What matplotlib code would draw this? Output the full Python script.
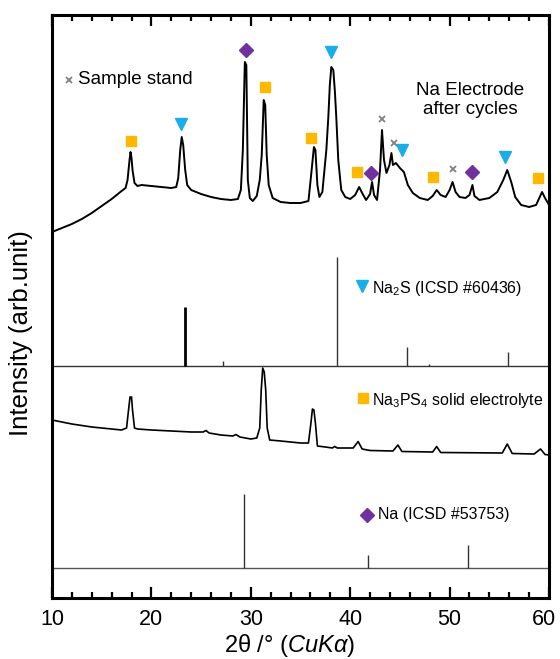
import numpy as np
import matplotlib
matplotlib.use('Agg')
import matplotlib.pyplot as plt
from matplotlib.ticker import MultipleLocator
from matplotlib.transforms import ScaledTranslation

plt.rcParams.update({
    'font.family': ['Liberation Sans', 'DejaVu Sans'],
    'mathtext.fontset': 'custom',
    'mathtext.rm': 'Liberation Sans',
    'mathtext.it': 'Liberation Sans:italic',
})

# Na electrode after cycles (2theta, intensity)
elec_x = [10.0, 11.0, 12.0, 13.0, 14.0, 15.0, 16.0, 17.0, 17.4, 17.6, 17.8, 17.9, 18.0, 18.1,
          18.3, 18.6, 19.0, 20.0, 21.0, 22.0, 22.5, 22.7, 22.9, 23.05, 23.2, 23.4, 23.6, 24.0,
          25.0, 26.0, 27.0, 28.0, 28.7, 29.0, 29.2, 29.4, 29.55, 29.7, 29.9, 30.2, 30.6, 30.9,
          31.1, 31.3, 31.45, 31.6, 31.8, 32.2, 33.0, 34.0, 35.0, 35.8, 36.1, 36.35, 36.5, 36.7,
          36.9, 37.2, 37.6, 37.8, 37.95, 38.1, 38.3, 38.45, 38.6, 38.8, 39.1, 39.5, 40.0, 40.5,
          40.9, 41.2, 41.6, 42.0, 42.2, 42.4, 42.7, 43.0, 43.2, 43.4, 43.65, 43.95, 44.15, 44.3,
          44.6, 45.0, 45.4, 45.8, 46.3, 47.0, 47.8, 48.3, 48.7, 49.1, 49.6, 50.0, 50.3, 50.6,
          51.0, 51.6, 52.0, 52.3, 52.5, 53.0, 54.0, 54.8, 55.4, 55.8, 56.2, 56.6, 57.2, 58.0,
          58.7, 59.3, 59.6, 60.0]
elec_y = [366, 370, 374, 379, 385, 392, 399, 407, 410, 418, 438, 446, 440, 428,
          415, 412, 413, 412, 411, 410, 411, 420, 448, 461, 453, 428, 413, 408,
          404, 401, 399, 398, 399, 408, 448, 536, 533, 418, 400, 397, 402, 418,
          443, 498, 493, 443, 413, 400, 396, 395, 395, 397, 426, 451, 448, 413,
          401, 406, 448, 481, 513, 531, 528, 508, 481, 438, 408, 401, 399, 403,
          411, 405, 398, 404, 416, 403, 398, 428, 468, 438, 425, 433, 445, 433,
          435, 430, 426, 413, 405, 400, 398, 402, 408, 403, 401, 408, 416, 406,
          401, 400, 403, 413, 402, 398, 400, 406, 418, 428, 416, 401, 393, 391,
          393, 406, 400, 393]

# Na3PS4 solid electrolyte
se_x = [10.0, 11.0, 12.0, 13.0, 14.0, 15.0, 16.0, 17.0, 17.5, 17.7, 17.85, 18.0, 18.1, 18.3,
        18.6, 20.0, 22.0, 24.0, 25.2, 25.5, 25.8, 27.0, 28.2, 28.5, 28.9, 30.0, 30.6, 30.9,
        31.05, 31.2, 31.35, 31.5, 31.65, 31.9, 33.0, 34.0, 35.0, 35.8, 36.05, 36.2, 36.35,
        36.5, 36.7, 37.5, 38.2, 38.45, 38.7, 40.3, 40.8, 41.2, 42.0, 44.3, 44.8, 45.2, 48.3,
        48.7, 49.1, 55.3, 55.8, 56.3, 58.5, 59.15, 59.6, 60.0]
se_y = [178, 176, 174, 172.5, 171, 170, 169, 168, 170, 188, 201, 201, 188, 170,
        169, 168, 167, 166, 166, 167.5, 165, 163, 162, 163.5, 161, 159, 160, 170,
        208, 230, 226, 208, 170, 158, 157, 156, 155, 155, 175, 189, 188,
        175, 152, 151, 150, 151.5, 150, 150, 156.5, 149, 147.5, 147, 153, 146.5, 146,
        151.5, 145.5, 145, 154, 144.5, 144, 149, 143.5, 143]

# reference patterns
na2s_pos = [23.4, 27.2, 38.7, 45.7, 47.9, 55.9]
na2s_top = [291, 237, 341, 251.5, 234, 246]
na2s_base = 232
na_pos = [29.3, 41.8, 51.9]
na_top = [104.5, 43, 52.6]
na_base = 30.3

# phase markers on the electrode pattern
sq_x = [17.9, 31.4, 36.1, 40.7, 48.35, 58.9]
sq_y = [457, 511, 460, 426, 421, 420]
tri_x = [23.0, 38.1, 45.2, 55.6]
tri_y = [474, 546, 448, 441]
dia_x = [29.5, 42.1, 52.3]
dia_y = [548, 425, 426]
cross_x = [43.2, 44.4, 50.3]
cross_y = [479, 455, 429]

c_sq = '#FFB800'
c_tri = '#1AAEE8'
c_dia = '#7030A0'
c_x = '#808080'

fig = plt.figure(figsize=(5.6, 6.59), dpi=100)
ax = fig.add_axes([52 / 560, 61 / 659, 497 / 560, 583 / 659])

ax.plot(elec_x, elec_y, color='black', lw=1.4)
ax.plot(se_x, se_y, color='black', lw=1.2)

ax.axhline(na2s_base, color='#333333', lw=1.0)
ax.vlines(na2s_pos[0], na2s_base, na2s_top[0], color='black', lw=2.0)
ax.vlines(na2s_pos[1:], na2s_base, na2s_top[1:], color='#333333', lw=1.0)
ax.axhline(na_base, color='#555555', lw=1.0)
ax.vlines(na_pos, na_base, na_top, color='#333333', lw=1.0)

ax.plot(sq_x, sq_y, 's', color=c_sq, ms=7)
ax.plot(tri_x, tri_y, 'v', color=c_tri, ms=8)
ax.plot(dia_x, dia_y, 'D', color=c_dia, ms=7.5)
ax.plot(cross_x, cross_y, 'x', color=c_x, ms=4.5, mew=1.3)

# labels
ax.plot([11.7], [518], 'x', color=c_x, ms=4.5, mew=1.3)
ax.text(12.6, 518, 'Sample stand', fontsize=13.5, va='center')
ax.text(52.1, 498, 'Na Electrode\nafter cycles', fontsize=13.5, ha='center', va='center',
        linespacing=1.2)
ax.plot([41.2], [312], 'v', color=c_tri, ms=8)
ax.text(42.2, 310, r'Na$\mathregular{_2}$S (ICSD #60436)', fontsize=11.5, va='center')
ax.plot([41.3], [200], 's', color=c_sq, ms=7)
ax.text(42.2, 198, r'Na$\mathregular{_3}$PS$\mathregular{_4}$ solid electrolyte', fontsize=11.5,
        va='center')
ax.plot([41.7], [83], 'D', color=c_dia, ms=7.5)
ax.text(42.8, 83, 'Na (ICSD #53753)', fontsize=11.5, va='center')

ax.set_xlim(10, 60)
ax.set_ylim(0, 583)
ax.set_xticks([10, 20, 30, 40, 50, 60])
ax.xaxis.set_minor_locator(MultipleLocator(2))
ax.tick_params(axis='x', which='both', direction='in', top=True, width=1.6, labelsize=15.5, pad=8)
ax.tick_params(axis='x', which='major', length=8)
ax.tick_params(axis='x', which='minor', length=4.5)
ax.set_yticks([])
for s in ax.spines.values():
    s.set_linewidth(2.2)

ax.set_xlabel(r'2θ /° ($\mathit{CuKα}$)', fontsize=17)
ax.xaxis.set_label_coords(0.478, -0.058)
ax.set_ylabel('Intensity (arb.unit)', fontsize=18.5)
ax.yaxis.set_label_coords(-0.038, 0.455)

# last tick label sits a little left of the axis edge, as in the original
fig.canvas.draw()
last = ax.get_xticklabels()[-1]
last.set_transform(last.get_transform() + ScaledTranslation(-5 / 100, 0, fig.dpi_scale_trans))

fig.savefig('out.png', dpi=100)
